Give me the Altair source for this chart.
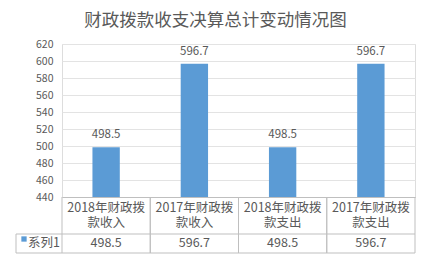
import altair as alt
import pandas as pd

title_text = "财政拨款收支决算总计变动情况图"
categories = ["2018年财政拨款收入", "2017年财政拨款收入", "2018年财政拨款支出", "2017年财政拨款支出"]
values = [498.5, 596.7, 498.5, 596.7]
series_name = "系列1"
y_ticks = [440, 460, 480, 500, 520, 540, 560, 580, 600, 620]

FONT = "Noto Sans CJK SC"
TXT = "#595959"
LINE = "#BFBFBF"
BLUE = "#5B9BD5"
W, H = 353, 153

df = pd.DataFrame({"cat": categories, "val": values, "series": [series_name] * len(values)})

x_enc = alt.X("cat:N", sort=categories, scale=alt.Scale(paddingInner=0, paddingOuter=0),
              axis=alt.Axis(labels=False, ticks=False, title=None, domainColor=LINE, grid=False))
y_enc = alt.Y("val:Q", scale=alt.Scale(domain=[y_ticks[0], y_ticks[-1]], zero=False, nice=False),
              axis=alt.Axis(values=y_ticks, tickCount=len(y_ticks), title=None, ticks=False,
                            domain=False, labelPadding=9, labelOverlap=False, labelFont=FONT,
                            labelFontSize=10.5, labelColor=TXT, gridColor="#E3E3E3", gridWidth=1))

base = alt.Chart(df)

bars = base.mark_bar(width=alt.RelativeBandSize(0.31), clip=True, color=BLUE).encode(
    x=x_enc,
    y=y_enc,
)

bar_labels = base.mark_text(font=FONT, fontSize=11.5, color=TXT, dy=-12).encode(
    x=x_enc,
    y=y_enc,
    text=alt.Text("val:Q", format=".1f"),
)

split = base.transform_calculate(
    l1="substring(datum.cat, 0, 8)",
    l2="substring(datum.cat, 8)",
)
cat_text1 = split.mark_text(font=FONT, fontSize=12.5, color=TXT, baseline="middle").encode(
    x=x_enc, y=alt.value(164), text="l1:N",
)
cat_text2 = split.mark_text(font=FONT, fontSize=12.5, color=TXT, baseline="middle").encode(
    x=x_enc, y=alt.value(179), text="l2:N",
)

val_text = base.mark_text(font=FONT, fontSize=12.5, color=TXT, baseline="middle").encode(
    x=x_enc,
    y=alt.value(199),
    text=alt.Text("val:Q", format=".1f"),
)

vlines_l = base.mark_rule(color=LINE, strokeWidth=1).encode(
    x=alt.X("cat:N", sort=categories, bandPosition=0),
    y=alt.value(H), y2=alt.value(209),
)
vlines_r = base.mark_rule(color=LINE, strokeWidth=1).encode(
    x=alt.X("cat:N", sort=categories, bandPosition=1),
    y=alt.value(H), y2=alt.value(209),
)

one = alt.Chart(alt.Data(values=[{"a": 1}]))
left_border = one.mark_rule(color=LINE).encode(x=alt.value(-46), y=alt.value(190), y2=alt.value(209))
hline1 = one.mark_rule(color=LINE).encode(x=alt.value(-46), x2=alt.value(W), y=alt.value(190))
hline2 = one.mark_rule(color=LINE).encode(x=alt.value(-46), x2=alt.value(W), y=alt.value(209))

legend_sym = one.mark_square(size=28, color=BLUE, opacity=1).encode(
    x=alt.value(-38), y=alt.value(195))
legend_lab = one.mark_text(font=FONT, fontSize=12.5, color=TXT, align="left", baseline="middle").encode(
    x=alt.value(-34), y=alt.value(199), text=alt.value(series_name))

chart = alt.layer(
    bars, bar_labels, cat_text1, cat_text2, val_text, vlines_l, vlines_r, left_border, hline1, hline2,
    legend_sym, legend_lab
).properties(
    width=W, height=H,
    title=alt.Title(title_text, font=FONT, fontSize=17.5, fontWeight="normal", color=TXT,
                    anchor="middle", frame="group", dx=-23, offset=10),
    autosize=alt.AutoSizeParams(type="none"),
    padding={"left": 62, "top": 44, "right": 11, "bottom": 60},
).configure_view(stroke=None).configure(background="white")

chart.save("out.html", embed_options={"renderer": "svg", "actions": False})
